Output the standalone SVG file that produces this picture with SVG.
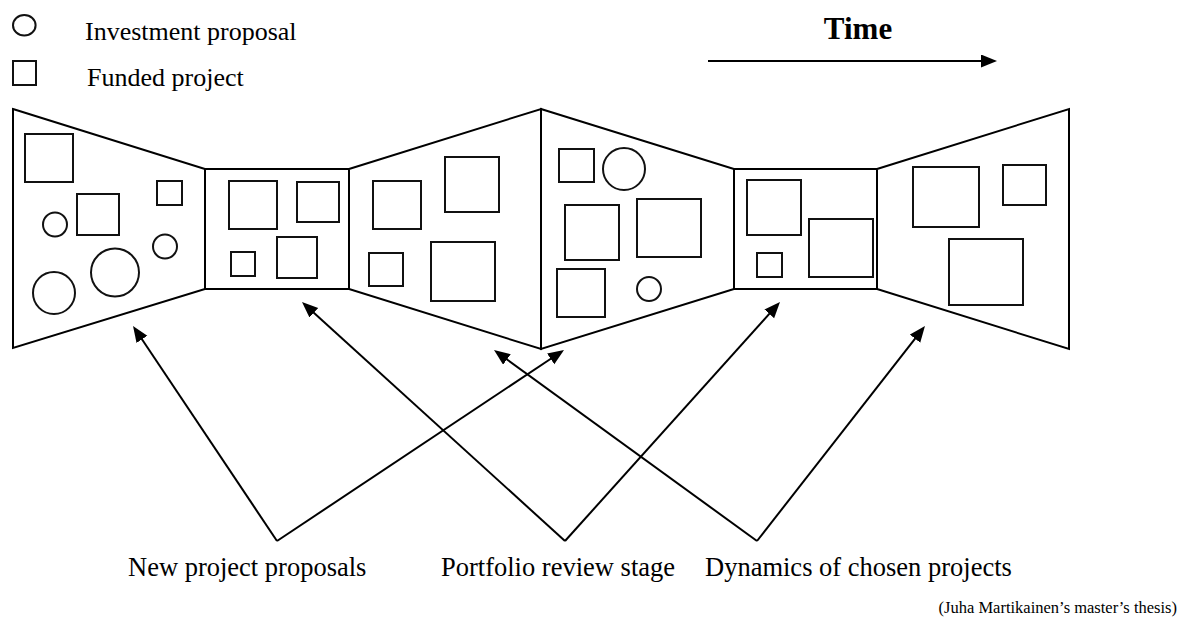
<svg xmlns="http://www.w3.org/2000/svg" width="1190" height="624" viewBox="0 0 1190 624">
  <style>
    .panel { fill: #fff; stroke: #000; stroke-width: 2; stroke-linejoin: miter; }
    .item { fill: none; stroke: #111; stroke-width: 2; }
    .conn { fill: none; stroke: #000; stroke-width: 2; marker-end: url(#head); }
    .lbl { font-family: "Liberation Serif", "Times New Roman", serif; font-size: 26.5px; fill: #000; }
    .legend { font-family: "Liberation Serif", "Times New Roman", serif; font-size: 26px; fill: #000; }
    .title { font-family: "Liberation Serif", "Times New Roman", serif; font-size: 31px; font-weight: bold; fill: #000; }
    .cite { font-family: "Liberation Serif", "Times New Roman", serif; font-size: 16.5px; fill: #000; }
  </style>
  <defs>
    <marker id="head" markerUnits="userSpaceOnUse" markerWidth="18" markerHeight="16" refX="6" refY="6.5" orient="auto">
      <path d="M0,0 L16,6.5 L0,13 z" fill="#000"/>
    </marker>
  </defs>
  <rect width="1190" height="624" fill="#fff"/>

  <!-- legend -->
  <g id="legend">
    <ellipse class="item" cx="24.3" cy="25.3" rx="11.3" ry="10.3"/>
    <text class="legend" x="85" y="40">Investment proposal</text>
    <rect class="item" x="13" y="61" width="23" height="24"/>
    <text class="legend" x="87" y="86">Funded project</text>
  </g>

  <!-- time axis -->
  <g id="time">
    <text class="title" x="858" y="39" text-anchor="middle">Time</text>
    <line class="conn" x1="708" y1="61" x2="987" y2="61"/>
  </g>

  <!-- stage 1: wide intake funnel -->
  <g id="stage1">
    <polygon class="panel" points="13,109 205,169 205,289 13,348"/>
    <rect class="item" x="25" y="134" width="48" height="48"/>
    <rect class="item" x="157" y="181" width="25" height="24"/>
    <rect class="item" x="77" y="194" width="42" height="41"/>
    <circle class="item" cx="55" cy="224.5" r="12"/>
    <circle class="item" cx="165" cy="246.5" r="12"/>
    <circle class="item" cx="115" cy="272.5" r="24"/>
    <circle class="item" cx="54" cy="293" r="21"/>
  </g>

  <!-- stage 2: review gate -->
  <g id="stage2">
    <rect class="panel" x="205" y="169" width="144" height="120"/>
    <rect class="item" x="229" y="181" width="48" height="48"/>
    <rect class="item" x="297" y="182" width="42" height="40"/>
    <rect class="item" x="231" y="252" width="24" height="24"/>
    <rect class="item" x="277" y="237" width="40" height="41"/>
  </g>

  <!-- stage 3: widening portfolio -->
  <g id="stage3">
    <polygon class="panel" points="349,169 541,109 541,349 349,289"/>
    <rect class="item" x="373" y="181" width="48" height="48"/>
    <rect class="item" x="445" y="157" width="54" height="55"/>
    <rect class="item" x="369" y="253" width="34" height="33"/>
    <rect class="item" x="431" y="242" width="64" height="59"/>
  </g>

  <!-- stage 4: second intake funnel -->
  <g id="stage4">
    <polygon class="panel" points="541,109 734,169 734,289 541,349"/>
    <rect class="item" x="559" y="149" width="35" height="33"/>
    <circle class="item" cx="624" cy="169" r="21"/>
    <rect class="item" x="565" y="205" width="54" height="55"/>
    <rect class="item" x="637" y="199" width="64" height="58"/>
    <rect class="item" x="557" y="269" width="48" height="48"/>
    <circle class="item" cx="649" cy="289" r="12"/>
  </g>

  <!-- stage 5: review gate -->
  <g id="stage5">
    <rect class="panel" x="734" y="169" width="143" height="120"/>
    <rect class="item" x="747" y="180" width="54" height="55"/>
    <rect class="item" x="809" y="219" width="64" height="58"/>
    <rect class="item" x="757" y="253" width="25" height="24"/>
  </g>

  <!-- stage 6: widening portfolio -->
  <g id="stage6">
    <polygon class="panel" points="877,169 1069,109 1069,349 877,289"/>
    <rect class="item" x="913" y="167" width="66" height="60"/>
    <rect class="item" x="1003" y="165" width="43" height="40"/>
    <rect class="item" x="949" y="239" width="74" height="66"/>
  </g>

  <!-- pointers from the captions to the stages -->
  <g id="connectors">
    <line class="conn" x1="277" y1="541" x2="138.6" y2="334.3"/>
    <line class="conn" x1="277" y1="541" x2="555.7" y2="355.5"/>
    <line class="conn" x1="565" y1="541" x2="309.4" y2="308.7"/>
    <line class="conn" x1="565" y1="541" x2="773.3" y2="309.4"/>
    <line class="conn" x1="757" y1="541" x2="502.1" y2="355.9"/>
    <line class="conn" x1="757" y1="541" x2="918.8" y2="333.9"/>
  </g>

  <!-- captions -->
  <g id="captions">
    <text class="lbl" x="128" y="576">New project proposals</text>
    <text class="lbl" x="441" y="576">Portfolio review stage</text>
    <text class="lbl" x="705" y="576">Dynamics of chosen projects</text>
    <text class="cite" x="1177" y="613" text-anchor="end">(Juha Martikainen’s master’s thesis)</text>
  </g>
</svg>
